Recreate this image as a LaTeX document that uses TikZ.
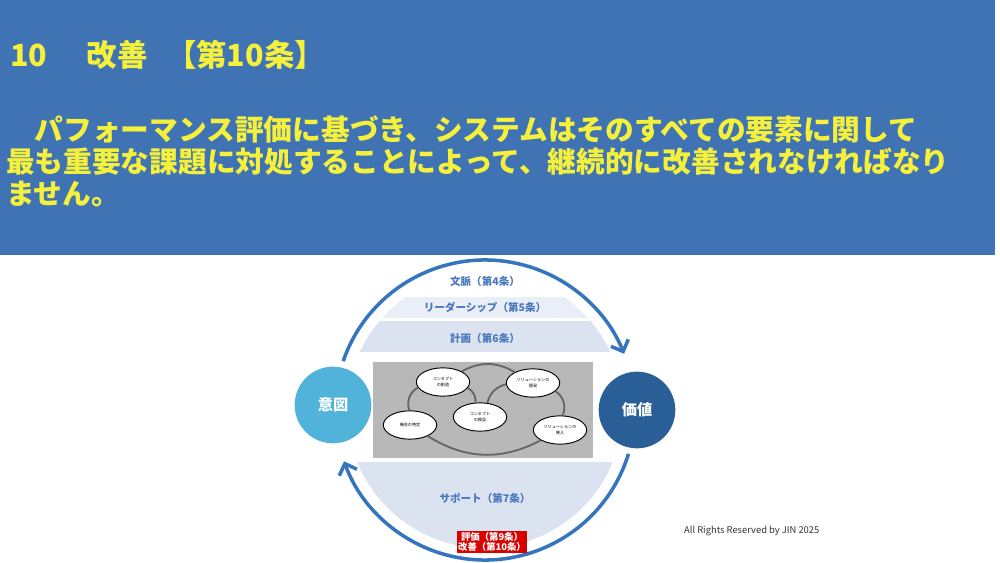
\documentclass[tikz,border=0pt]{standalone}
\usepackage{fontspec}
\setmainfont{Noto Sans CJK JP}
\usepackage{xcolor}
\usetikzlibrary{shapes, arrows.meta, positioning}
\definecolor{hdr}{HTML}{3F73B4}
\definecolor{ttl}{HTML}{F5F03C}
\definecolor{bandc}{HTML}{DCE3F0}
\definecolor{lbl}{HTML}{4A78BE}
\definecolor{ring}{HTML}{3575BD}

\begin{document}
\begin{tikzpicture}[x=0.03cm, y=-0.03cm,
    main/.style = {draw, ellipse, fill=white, thick, inner sep=0pt, minimum width=1.6cm, minimum height=0.85cm, align=center, font=\fontsize{3.5}{4.5}\selectfont},
    goal/.style = {circle, minimum size=2.3cm, text=white, font=\bfseries\fontsize{13}{15}\selectfont},
    bandlbl/.style = {font=\bfseries\fontsize{9}{11}\selectfont, text=lbl},
    link/.style = {draw=black!60, line width=1.6pt}]
    \useasboundingbox (0,0) rectangle (1000,563);
    % Header
    \fill[hdr] (0,0) rectangle (995,255);
    \node[anchor=west, text=ttl, font=\bfseries\fontsize{26}{30}\selectfont] (title) at (6,55) {10\hspace{1.3em}改善\hspace{0.6em}【第10条】};
    \node[anchor=north west, text=ttl, align=left, font=\bfseries\fontsize{24.5}{27}\selectfont] (body) at (2,112)
        {\hspace{1em}パフォーマンス評価に基づき、システムはそのすべての要素に関して\\最も重要な課題に対処することによって、継続的に改善されなければなり\\ません。};

    % Bands
    \begin{scope}
        \clip (485,410) circle (138);
        \fill[bandc!60] (300,297) rectangle (670,318);
        \fill[bandc] (300,321) rectangle (670,352);
        \fill[bandc] (300,462) rectangle (670,560);
    \end{scope}
    \node[bandlbl] (ctx) at (485,281) {文脈（第4条）};
    \node[bandlbl] (lead) at (485,307) {リーダーシップ（第5条）};
    \node[bandlbl] (plan) at (485,338) {計画（第6条）};
    \node[bandlbl] (supp) at (485,498) {サポート（第7条）};

    % Gray picture
    \fill[black!28] (373,362) rectangle (593,458);
    \node[main] (opp) at (410,425) {機会の特定};
    \node[main] (cre) at (443,382) {コンセプト\\の創造};
    \node[main] (ver) at (480,417) {コンセプト\\の検証};
    \node[main] (dev) at (533,383) {ソリューションの\\開発};
    \node[main] (int) at (560,430) {ソリューションの\\導入};
    \draw[link] (opp) to[bend left=40] (cre);
    \draw[link] (cre) to[bend left=30] (ver);
    \draw[link] (ver) to[bend left=30] (dev);
    \draw[link] (dev) to[bend left=40] (int);
    \draw[link] (opp) to[bend right=30] (int);
    \draw[link] (cre) to[bend left=30] (dev);

    % Goals
    \node[goal, fill=ring!70!cyan!80!white] (intent) at (333,405) {意図};
    \node[goal, fill=ring!80!black] (value) at (637,410) {価値};

    % Cycle
    \coordinate (c) at (485,410);
    \draw[ring, line width=3pt, -{Straight Barb[length=8pt, width=16pt]}] (c) ++(-161:150) arc[start angle=-161, end angle=-22, radius=150];
    \draw[ring, line width=3pt, -{Straight Barb[length=8pt, width=16pt]}] (c) ++(17:150) arc[start angle=17, end angle=160, radius=150];

    % Article label
    \node[fill=red!85!black, text=white, align=center, inner sep=1pt, font=\bfseries\fontsize{8}{9}\selectfont] (eval) at (492,542) {評価（第9条）\\改善（第10条）};
    \node[anchor=west, text=black!80, font=\fontsize{8}{10}\selectfont] (copy) at (680,531) {All Rights Reserved by JIN 2025};
\end{tikzpicture}
\end{document}
